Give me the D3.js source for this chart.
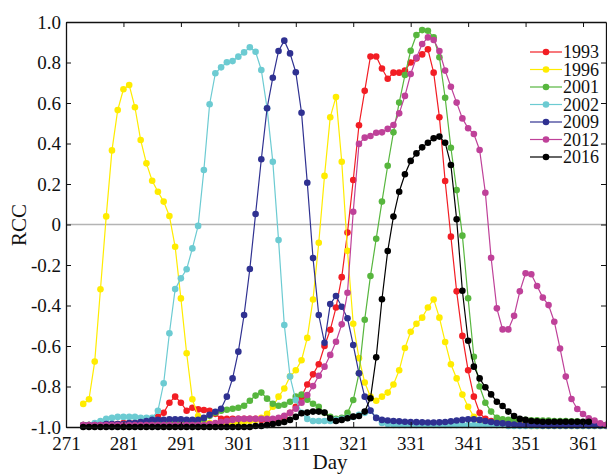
<!DOCTYPE html>
<html>
<head>
<meta charset="utf-8">
<script src="https://cdn.jsdelivr.net/npm/d3@7"></script>
<style>
  html, body { margin: 0; padding: 0; background: #fff; }
  svg { display: block; }
  text { font-family: "Liberation Serif", "Times New Roman", serif; fill: #111; }
</style>
</head>
<body>
<svg id="chart" width="607" height="475"></svg>
<script>
// Daily RCC series, one value per day starting at day 274
const startDay = 274;

const years = ["1993", "1996", "2001", "2002", "2009", "2012", "2016"];
const colors = ["#f21d24", "#ffec00", "#57b63e", "#6ccbd2", "#2f3191", "#bf4199", "#000000"];

const rcc1993 = [
  -0.99,-0.99,-0.99,-0.99,-0.985,-0.985,-0.985,-0.98,-0.98,-0.98,
  -0.975,-0.97,-0.96,-0.95,-0.93,-0.88,-0.85,-0.88,-0.92,-0.905,
  -0.913,-0.916,-0.92,-0.935,-0.96,-0.96,-0.96,-0.96,-0.96,-0.96,
  -0.96,-0.965,-0.965,-0.965,-0.96,-0.95,-0.93,-0.90,-0.85,-0.79,
  -0.74,-0.69,-0.60,-0.52,-0.41,-0.26,-0.04,0.22,0.49,0.66,
  0.83,0.83,0.77,0.72,0.75,0.75,0.76,0.80,0.82,0.84,
  0.865,0.75,0.53,0.215,-0.06,-0.33,-0.55,-0.72,-0.85,-0.93,
  -0.96,-0.97,-0.975,-0.98,-0.98,-0.98,-0.98,-0.98,-0.98,-0.98,
  -0.98,-0.98,-0.98,-0.985,-0.985,-0.985,-0.985,-0.985,-0.99,-0.99,
  -0.99,-0.99
];

const rcc1996 = [
  -0.886,-0.863,-0.677,-0.32,0.04,0.366,0.565,0.668,0.689,0.579,
  0.417,0.302,0.216,0.162,0.113,0.042,-0.11,-0.365,-0.636,-0.863,
  -0.946,-0.97,-0.98,-0.985,-0.985,-0.985,-0.985,-0.98,-0.975,-0.97,
  -0.965,-0.955,-0.935,-0.90,-0.85,-0.81,-0.75,-0.72,-0.67,-0.56,
  -0.37,-0.09,0.24,0.53,0.63,0.31,-0.13,-0.49,-0.66,-0.78,
  -0.85,-0.87,-0.85,-0.83,-0.79,-0.72,-0.61,-0.53,-0.49,-0.46,
  -0.41,-0.37,-0.46,-0.58,-0.69,-0.76,-0.84,-0.90,-0.95,-0.97,
  -0.98,-0.985,-0.99,-0.99,-0.99,-0.99,-0.99,-0.99,-0.995,-0.995,
  -0.995,-0.995,-0.995,-0.995,-0.995,-0.995,-0.995,-0.995,-0.995,-0.995,
  -0.995,-0.995
];

const rcc2001 = [
  -0.99,-0.99,-0.99,-0.99,-0.99,-0.99,-0.99,-0.99,-0.99,-0.99,
  -0.99,-0.99,-0.985,-0.985,-0.985,-0.98,-0.98,-0.98,-0.975,-0.975,
  -0.97,-0.96,-0.945,-0.93,-0.92,-0.915,-0.91,-0.905,-0.895,-0.87,
  -0.845,-0.83,-0.86,-0.885,-0.895,-0.89,-0.875,-0.85,-0.84,-0.865,
  -0.885,-0.90,-0.93,-0.95,-0.96,-0.955,-0.93,-0.867,-0.735,-0.47,
  -0.254,-0.07,0.113,0.29,0.455,0.602,0.738,0.858,0.936,0.96,
  0.957,0.924,0.826,0.626,0.379,0.17,-0.055,-0.364,-0.653,-0.80,
  -0.88,-0.924,-0.955,-0.962,-0.965,-0.965,-0.965,-0.965,-0.967,-0.967,
  -0.968,-0.968,-0.97,-0.97,-0.97,-0.972,-0.972,-0.975,-0.975,-0.98,
  -0.985,-0.99
];

const rcc2002 = [
  -0.995,-0.99,-0.98,-0.97,-0.96,-0.955,-0.95,-0.95,-0.95,-0.95,
  -0.955,-0.955,-0.955,-0.92,-0.784,-0.537,-0.319,-0.266,-0.221,-0.118,
  -0.007,0.269,0.594,0.747,0.776,0.801,0.807,0.829,0.85,0.875,
  0.853,0.763,0.574,0.31,-0.077,-0.496,-0.751,-0.867,-0.93,-0.96,
  -0.97,-0.97,-0.97,-0.97,-0.965,-0.96,-0.955,-0.95,-0.94,-0.93,
  -0.92,-0.955,-0.98,-0.985,-0.99,-0.99,-0.99,-0.99,-0.99,-0.99,
  -0.99,-0.99,-0.99,-0.99,-0.99,-0.99,-0.99,-0.99,-0.99,-0.99,
  -0.99,-0.99,-0.99,-0.99,-0.995,-0.995,-0.995,-0.995,-0.995,-0.995,
  -0.995,-0.995,-0.995,-0.995,-0.995,-0.995,-0.995,-0.995,-0.995,-0.995,
  -0.995,-0.995
];

const rcc2009 = [
  -0.99,-0.99,-0.99,-0.99,-0.985,-0.985,-0.985,-0.985,-0.98,-0.98,
  -0.975,-0.97,-0.965,-0.965,-0.965,-0.962,-0.962,-0.962,-0.965,-0.965,
  -0.965,-0.955,-0.94,-0.925,-0.91,-0.85,-0.76,-0.628,-0.447,-0.22,
  0.052,0.322,0.574,0.725,0.857,0.908,0.845,0.752,0.552,0.206,
  -0.166,-0.447,-0.584,-0.393,-0.353,-0.406,-0.463,-0.595,-0.735,-0.85,
  -0.919,-0.955,-0.965,-0.968,-0.97,-0.972,-0.974,-0.975,-0.976,-0.977,
  -0.978,-0.978,-0.977,-0.975,-0.972,-0.968,-0.965,-0.962,-0.962,-0.965,
  -0.97,-0.975,-0.98,-0.982,-0.985,-0.988,-0.99,-0.99,-0.99,-0.99,
  -0.992,-0.992,-0.992,-0.992,-0.992,-0.992,-0.992,-0.992,-0.992,-0.992,
  -0.992,-0.992
];

const rcc2012 = [
  -0.99,-0.99,-0.99,-0.99,-0.99,-0.99,-0.99,-0.99,-0.99,-0.99,
  -0.99,-0.99,-0.99,-0.99,-0.99,-0.99,-0.99,-0.99,-0.99,-0.99,
  -0.99,-0.99,-0.985,-0.98,-0.975,-0.97,-0.965,-0.96,-0.96,-0.96,
  -0.96,-0.96,-0.96,-0.96,-0.955,-0.945,-0.93,-0.91,-0.88,-0.842,
  -0.798,-0.747,-0.702,-0.644,-0.579,-0.493,-0.337,0.063,0.398,0.429,
  0.437,0.453,0.455,0.472,0.491,0.549,0.635,0.743,0.824,0.891,
  0.924,0.911,0.857,0.76,0.68,0.602,0.524,0.475,0.447,0.368,
  0.157,-0.164,-0.414,-0.518,-0.518,-0.451,-0.33,-0.241,-0.246,-0.304,
  -0.361,-0.398,-0.48,-0.612,-0.751,-0.862,-0.911,-0.936,-0.957,-0.968,
  -0.982,-0.99
];

const rcc2016 = [
  -1,-1,-1,-1,-1,-1,-1,-1,-1,-1,
  -1,-1,-1,-1,-1,-1,-1,-1,-1,-1,
  -1,-1,-1,-1,-1,-1,-1,-1,-1,-1,
  -0.995,-0.995,-0.99,-0.985,-0.98,-0.975,-0.965,-0.95,-0.932,-0.929,
  -0.924,-0.924,-0.929,-0.957,-0.97,-0.965,-0.957,-0.949,-0.946,-0.924,
  -0.858,-0.656,-0.369,-0.131,0.039,0.162,0.248,0.314,0.351,0.381,
  0.404,0.426,0.434,0.404,0.294,0.026,-0.327,-0.574,-0.702,-0.76,
  -0.804,-0.839,-0.875,-0.896,-0.924,-0.946,-0.96,-0.965,-0.97,-0.972,
  -0.974,-0.974,-0.974,-0.974,-0.974,-0.974,-0.974,-0.974,-0.974
];

const seriesValues = [rcc1993, rcc1996, rcc2001, rcc2002, rcc2009, rcc2012, rcc2016];

const xTicks = [271, 281, 291, 301, 311, 321, 331, 341, 351, 361];
const yTicks = [-1.0, -0.8, -0.6, -0.4, -0.2, 0, 0.2, 0.4, 0.6, 0.8, 1.0];
const yTickLabels = ["-1.0", "-0.8", "-0.6", "-0.4", "-0.2", "0", "0.2", "0.4", "0.6", "0.8", "1.0"];

// ---- layout ----
const svg = d3.select("#chart");
const plotLeft = 66, plotRight = 606, plotTop = 22, plotBottom = 427;

const x = d3.scaleLinear().domain([271, 365]).range([plotLeft, plotRight]);
const y = d3.scaleLinear().domain([-1, 1]).range([plotBottom, plotTop]);

// zero reference line
svg.append("line")
  .attr("x1", plotLeft).attr("x2", plotRight)
  .attr("y1", y(0)).attr("y2", y(0))
  .attr("stroke", "#b4b4b4").attr("stroke-width", 1.5);

// ---- data ----
const line = d3.line().x(d => x(d[0])).y(d => y(d[1]));

seriesValues.forEach((vals, i) => {
  const pts = vals.map((v, k) => [startDay + k, v]);
  const g = svg.append("g").attr("class", "series");
  g.append("path")
    .attr("d", line(pts))
    .attr("fill", "none")
    .attr("stroke", colors[i])
    .attr("stroke-width", 1.2);
  g.selectAll("circle").data(pts).join("circle")
    .attr("cx", d => x(d[0]))
    .attr("cy", d => y(d[1]))
    .attr("r", 3.3)
    .attr("fill", colors[i]);
});

// ---- axes ----
const fontSize = "19px";
const styleAxis = g => {
  g.select(".domain").attr("stroke", "#111").attr("stroke-width", 1.3);
  g.selectAll(".tick line").attr("stroke", "#111").attr("stroke-width", 1);
  g.selectAll(".tick text")
    .attr("font-family", "Liberation Serif, Times New Roman, serif")
    .attr("font-size", fontSize).attr("fill", "#111");
};

svg.append("g")
  .attr("transform", `translate(0,${plotBottom})`)
  .call(d3.axisBottom(x).tickValues(xTicks).tickFormat(d3.format("d"))
    .tickSize(-5).tickSizeOuter(0).tickPadding(10))
  .call(styleAxis);

svg.append("g")
  .attr("transform", `translate(0,${plotTop})`)
  .call(d3.axisTop(x).tickValues(xTicks).tickFormat("")
    .tickSize(-5).tickSizeOuter(0))
  .call(styleAxis);

svg.append("g")
  .attr("transform", `translate(${plotLeft},0)`)
  .call(d3.axisLeft(y).tickValues(yTicks)
    .tickFormat((d, i) => yTickLabels[i])
    .tickSize(-5).tickSizeOuter(0).tickPadding(5))
  .call(styleAxis);

svg.append("g")
  .attr("transform", `translate(${plotRight},0)`)
  .call(d3.axisRight(y).tickValues(yTicks).tickFormat("")
    .tickSize(-5).tickSizeOuter(0))
  .call(styleAxis);

// axis titles
svg.append("text")
  .attr("x", 330).attr("y", 469)
  .attr("text-anchor", "middle")
  .attr("font-size", "21px")
  .text("Day");

svg.append("text")
  .attr("transform", "translate(26,225) rotate(-90)")
  .attr("text-anchor", "middle")
  .attr("font-size", "21px")
  .text("RCC");

// ---- legend ----
const legend = svg.append("g").attr("transform", "translate(530,52)");
years.forEach((yr, i) => {
  const row = legend.append("g").attr("transform", `translate(0,${i * 17.5})`);
  row.append("line")
    .attr("x1", 0).attr("x2", 32).attr("y1", 0).attr("y2", 0)
    .attr("stroke", colors[i]).attr("stroke-width", 1.2);
  row.append("circle").attr("cx", 16).attr("cy", 0).attr("r", 3.3).attr("fill", colors[i]);
  row.append("text")
    .attr("x", 33).attr("y", 6)
    .attr("font-size", "18px")
    .text(yr);
});
</script>
</body>
</html>
